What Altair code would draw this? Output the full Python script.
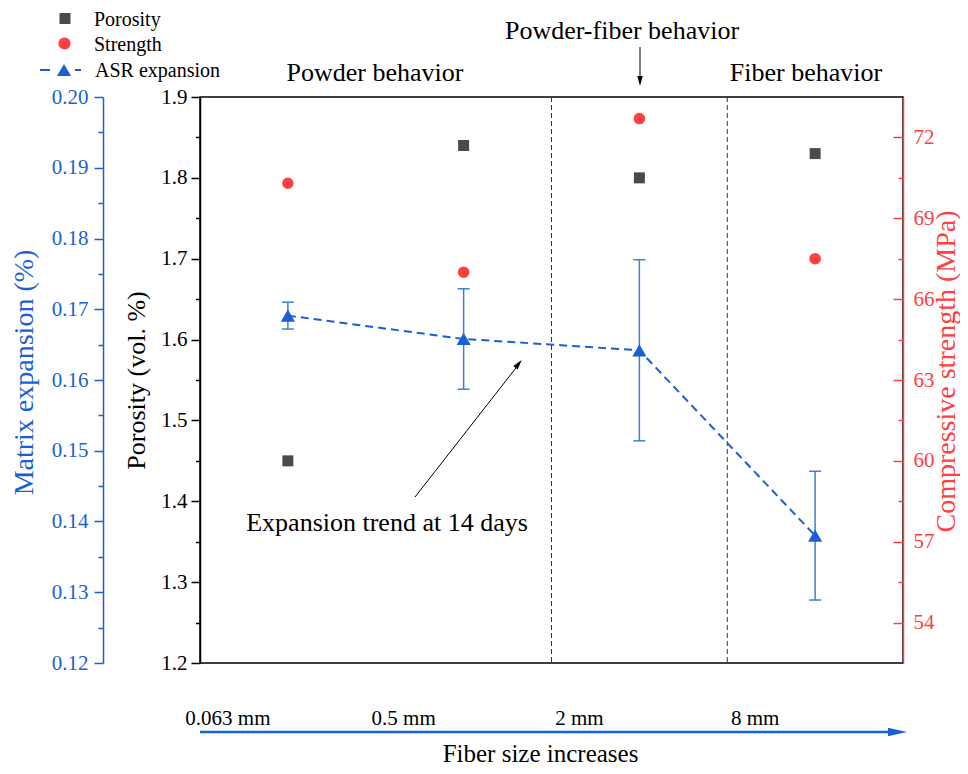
import altair as alt
import pandas as pd

# ---------------- data ----------------
sizes = ["0.063 mm", "0.5 mm", "2 mm", "8 mm"]
porosity = [1.450, 1.840, 1.800, 1.830]
strength = [70.3, 67.0, 72.7, 67.5]
asr = [0.1691, 0.1658, 0.1642, 0.1380]
asr_err = [0.0019, 0.0071, 0.0128, 0.0091]
boundaries = ["2 mm", "8 mm"]

por_major = [1.2, 1.3, 1.4, 1.5, 1.6, 1.7, 1.8, 1.9]
por_minor = [1.25, 1.35, 1.45, 1.55, 1.65, 1.75, 1.85]
asr_major = [0.12, 0.13, 0.14, 0.15, 0.16, 0.17, 0.18, 0.19, 0.20]
asr_minor = [0.125, 0.135, 0.145, 0.155, 0.165, 0.175, 0.185, 0.195]
str_major = [54, 57, 60, 63, 66, 69, 72]
str_minor = [55.5, 58.5, 61.5, 64.5, 67.5, 70.5]

legend_labels = ["Porosity", "Strength", "ASR expansion"]

df = pd.DataFrame({
    "size": sizes,
    "porosity": porosity,
    "strength": strength,
    "asr": asr,
    "asr_hi": [a + e for a, e in zip(asr, asr_err)],
    "asr_lo": [a - e for a, e in zip(asr, asr_err)],
})
bdf = pd.DataFrame({"size": boundaries})

FONT = "Liberation Serif"
BLUE = "#1a5fd6"
BLUE_L = "#3a7ee0"
RED = "#ff4040"
GRAY = "#4a4a4a"

W, H = 703, 566

xscale = alt.Scale(domain=sizes, paddingInner=0, paddingOuter=0)
X_AXIS = alt.Axis(orient="bottom", domain=False, ticks=False, tickSize=0,
                  labelAngle=0, labelOffset=-60, labelPadding=44,
                  labelFontSize=21, labelColor="black", labelFont=FONT,
                  title="Fiber size increases", titleFontSize=25,
                  titleFont=FONT, titleFontWeight="normal", titleColor="black",
                  titleX=340, titleY=98, titleAlign="center",
                  titleBaseline="alphabetic", grid=False)


def X(**kw):
    return alt.X("size:N", scale=xscale, sort=sizes, axis=X_AXIS, **kw)


por_scale = alt.Scale(domain=[1.2, 1.9], nice=False, zero=False)
asr_scale = alt.Scale(domain=[0.12, 0.20], nice=False, zero=False)
str_scale = alt.Scale(domain=[52.5, 73.5], nice=False, zero=False)

ASR_AXIS = alt.Axis(orient="left", offset=97, values=asr_major, format=".2f",
                    tickSize=9, tickWidth=1.5, tickColor=BLUE,
                    domainColor=BLUE, domainWidth=1.5,
                    labelFontSize=21, labelColor=BLUE, labelPadding=6,
                    title="Matrix expansion (%)", titleFontSize=28,
                    titleFontWeight="normal", titleColor=BLUE,
                    titleAngle=270, titleX=-71, titleY=275,
                    titleAlign="center", titleBaseline="alphabetic",
                    grid=False)

base = alt.Chart(df)

# Porosity
por = base.mark_square(size=121, color=GRAY, opacity=1).encode(
    x=X(),
    y=alt.Y("porosity:Q", scale=por_scale,
            axis=alt.Axis(orient="left", values=por_major, format=".1f",
                          tickSize=9, tickWidth=1.5, tickColor="black",
                          domainColor="black", domainWidth=1.5,
                          labelFontSize=21, labelColor="black", labelPadding=4,
                          title="Porosity (vol. %)", titleFontSize=26,
                          titleFontWeight="normal", titleColor="black",
                          titleAngle=270, titleX=-56, titleY=283,
                          titleAlign="center", titleBaseline="alphabetic",
                          grid=False)),
)
por_min = base.mark_square(opacity=0).encode(
    x=X(),
    y=alt.Y("porosity:Q", scale=por_scale,
            axis=alt.Axis(orient="left", values=por_minor, labels=False,
                          tickSize=4.5, tickWidth=1.5, tickColor="black",
                          domain=False, title=None, grid=False)),
)

# Strength
stre = base.mark_circle(size=135, color=RED, opacity=1).encode(
    x=X(),
    y=alt.Y("strength:Q", scale=str_scale,
            axis=alt.Axis(orient="right", values=str_major, format="d",
                          tickSize={"expr": "-10"}, tickWidth=1.5, tickColor=RED,
                          domainColor=RED, domainWidth=1.5,
                          labelFontSize=21, labelColor=RED, labelPadding=20,
                          title="Compressive strength (MPa)", titleFontSize=28,
                          titleFontWeight="normal", titleColor=RED,
                          titleAngle=270, titleX=51, titleY=274,
                          titleAlign="center", titleBaseline="alphabetic",
                          grid=False)),
)
str_min = base.mark_circle(opacity=0).encode(
    x=X(),
    y=alt.Y("strength:Q", scale=str_scale,
            axis=alt.Axis(orient="right", values=str_minor, labels=False,
                          tickSize={"expr": "-5"}, tickWidth=1.5, tickColor=RED,
                          domain=False, title=None, grid=False)),
)

# ASR expansion (all children share the same y scale and axis definition)
asr_line = base.mark_line(color=BLUE, strokeWidth=2, strokeDash=[8, 5]).encode(
    x=X(), y=alt.Y("asr:Q", scale=asr_scale, axis=ASR_AXIS))
asr_err_rule = base.mark_rule(color=BLUE_L, strokeWidth=1.5).encode(
    x=X(), y=alt.Y("asr_lo:Q", scale=asr_scale, axis=ASR_AXIS), y2="asr_hi:Q")
asr_cap_hi = base.mark_tick(orient="horizontal", size=12, thickness=1.5, color=BLUE_L, opacity=1).encode(
    x=X(), y=alt.Y("asr_hi:Q", scale=asr_scale, axis=ASR_AXIS))
asr_cap_lo = base.mark_tick(orient="horizontal", size=12, thickness=1.5, color=BLUE_L, opacity=1).encode(
    x=X(), y=alt.Y("asr_lo:Q", scale=asr_scale, axis=ASR_AXIS))
asr_pts = base.mark_point(shape="triangle-up", size=200, filled=True, color=BLUE, opacity=1).encode(
    x=X(), y=alt.Y("asr:Q", scale=asr_scale, axis=ASR_AXIS))
asr_group = alt.layer(asr_line, asr_err_rule, asr_cap_hi, asr_cap_lo, asr_pts)
asr_min = base.mark_point(opacity=0).encode(
    x=X(),
    y=alt.Y("asr:Q", scale=asr_scale,
            axis=alt.Axis(orient="left", offset=97, values=asr_minor, labels=False,
                          tickSize=5, tickWidth=1.5, tickColor=BLUE,
                          domain=False, title=None, grid=False)),
)

# vertical dashed separators
seps = alt.Chart(bdf).mark_rule(color="#333333", strokeWidth=1, strokeDash=[5, 3]).encode(
    x=X(bandPosition=0))


def txt(label, x, y, size=26, color="black", align="center"):
    return alt.Chart(pd.DataFrame({"t": [label]})).mark_text(
        font=FONT, fontSize=size, color=color, align=align, baseline="middle"
    ).encode(x=alt.value(x), y=alt.value(y), text="t:N")


def seg(x1, y1, x2, y2, color="black", width=1.0, dash=None):
    kw = dict(color=color, strokeWidth=width)
    if dash:
        kw["strokeDash"] = dash
    return alt.Chart(pd.DataFrame({"k": [0]})).mark_rule(**kw).encode(
        x=alt.value(x1), y=alt.value(y1), x2=alt.value(x2), y2=alt.value(y2))


def sym(x, y, shape, size, color, angle=0):
    return alt.Chart(pd.DataFrame({"k": [0]})).mark_point(
        shape=shape, size=size, filled=True, color=color, opacity=1, angle=angle
    ).encode(x=alt.value(x), y=alt.value(y))


HEAD = "M0,-1L0.55,1L-0.55,1Z"

annots = [
    txt("Powder behavior", 175, -24),
    txt("Fiber behavior", 606, -24),
    txt("Powder-fiber behavior", 422, -66),
    seg(440, -50, 440, -16),
    sym(440, -16, HEAD, 100, "black", 180),
    txt("Expansion trend at 14 days", 187, 426),
    seg(215, 400, 319, 267),
    sym(318.6, 266.9, HEAD, 100, "black", 38.4),
    # bottom arrow
    seg(0, 635, 690, 635, color=BLUE, width=2.5),
    sym(697.5, 635, "M1,0L-1,-0.45L-1,0.45Z", 361, BLUE, 0),
    # legend
    sym(-135, -78.5, "square", 121, GRAY),
    txt(legend_labels[0], -106, -77.5, size=20, align="left"),
    sym(-135.5, -53.5, "circle", 150, RED),
    txt(legend_labels[1], -106, -52.5, size=20, align="left"),
    seg(-160, -27, -150, -27, color=BLUE, width=2),
    seg(-125, -27, -119, -27, color=BLUE, width=2),
    sym(-136, -27, "triangle-up", 200, BLUE),
    txt(legend_labels[2], -105, -26.5, size=20, align="left"),
]

chart = alt.layer(
    seps, por, por_min, stre, str_min, asr_group, asr_min, *annots
).resolve_scale(y="independent").properties(
    width=W, height=H,
    autosize=alt.AutoSizeParams(type="none"),
    padding={"left": 192, "top": 89, "right": 57, "bottom": 102},
).configure_view(stroke="black", strokeWidth=1.5).configure_axis(
    labelFont=FONT, titleFont=FONT, grid=False
).configure_text(font=FONT)

chart.save("out.html", embed_options={"renderer": "svg", "actions": False})
